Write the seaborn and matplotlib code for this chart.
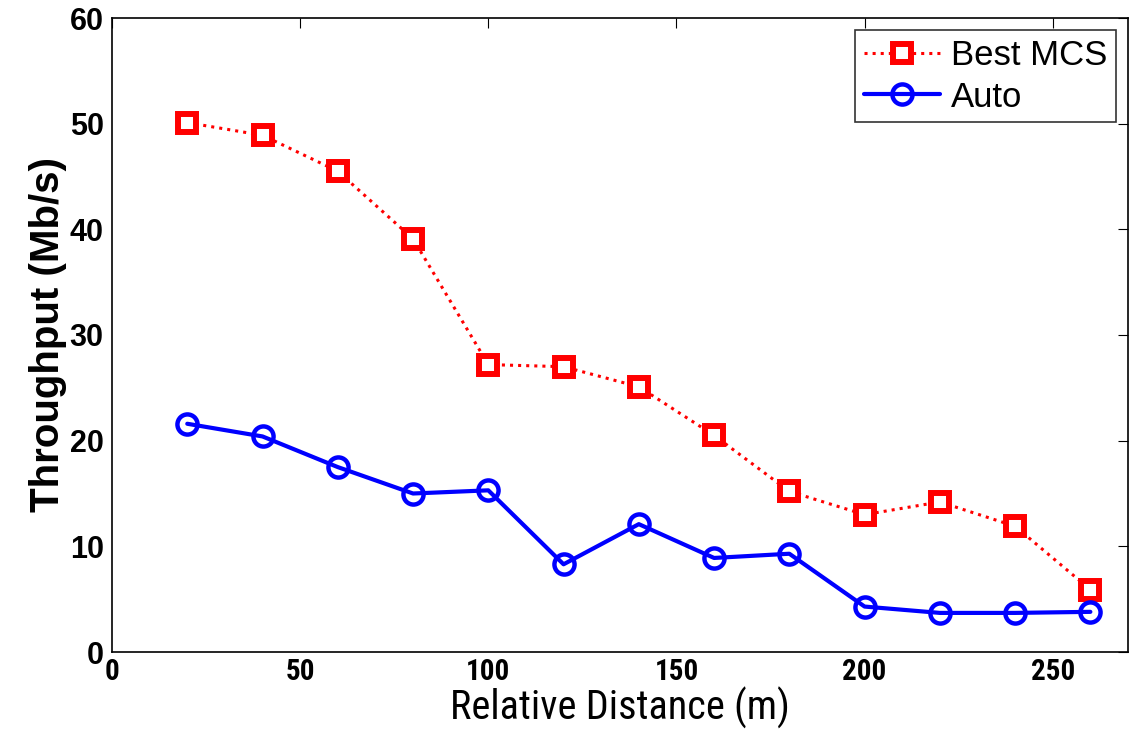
import matplotlib
matplotlib.use("Agg")
import matplotlib.pyplot as plt
import seaborn as sns
import pandas as pd
from matplotlib import font_manager

distance = [20, 40, 60, 80, 100, 120, 140, 160, 180, 200, 220, 240, 260]
best_mcs = [50.1, 48.9, 45.5, 39.1, 27.2, 27.0, 25.1, 20.5, 15.2, 13.0, 14.2, 11.9, 5.9]
auto = [21.6, 20.4, 17.5, 15.0, 15.3, 8.3, 12.1, 8.9, 9.3, 4.3, 3.7, 3.7, 3.8]
x_ticks = [0, 50, 100, 150, 200, 250]
y_ticks = [0, 10, 20, 30, 40, 50, 60]

sns.set_theme(style="white")
plt.rcParams['font.family'] = ['Liberation Sans', 'DejaVu Sans']
plt.rcParams['text.color'] = 'black'
plt.rcParams['axes.labelcolor'] = 'black'
plt.rcParams['xtick.color'] = 'black'
plt.rcParams['ytick.color'] = 'black'

names = {f.name for f in font_manager.fontManager.ttflist}
narrow = None
for cand in ['Liberation Sans Narrow', 'Roboto Condensed', 'Open Sans Condensed']:
    if cand in names:
        narrow = cand
        break
has_dv_cond = any(f.name == 'DejaVu Sans' and 'Condensed' in f.fname for f in font_manager.fontManager.ttflist)
if narrow is None:
    narrow = 'DejaVu Sans' if has_dv_cond else 'Liberation Sans'

df = pd.DataFrame({"distance": distance, "best": best_mcs, "auto": auto})

fig = plt.figure(figsize=(11.3, 7.39), dpi=100)
ax = fig.add_axes([112/1130, 1-652/739, (1128-112)/1130, (652-18)/739])

sns.lineplot(data=df, x="distance", y="best", ax=ax, color="#ff0000", linestyle=":",
             linewidth=2.2, marker="s", markersize=12.5, markeredgewidth=4.3,
             markerfacecolor="white", markeredgecolor="#ff0000", label="Best MCS")
sns.lineplot(data=df, x="distance", y="auto", ax=ax, color="#0000ff", linestyle="-",
             linewidth=3, marker="o", markersize=14.5, markeredgewidth=3.2,
             markerfacecolor="none", markeredgecolor="#0000ff", label="Auto")

ax.set_xlim(0, 270)
ax.set_ylim(0, 60)
ax.set_xticks(x_ticks)
ax.set_yticks(y_ticks)
ax.tick_params(direction="in", top=True, right=True, length=7, width=0.8)
for lab in ax.get_xticklabels():
    lab.set_fontfamily(narrow)
    lab.set_fontstretch("condensed")
    lab.set_fontsize(21)
    lab.set_fontweight("bold")
for lab in ax.get_yticklabels():
    lab.set_fontsize(22)
    lab.set_fontweight("bold")
ax.tick_params(axis="x", pad=4)
ax.tick_params(axis="y", pad=6)

ax.set_xlabel("Relative Distance (m)", fontsize=29, fontfamily=narrow, fontstretch="condensed", labelpad=1)
ax.set_ylabel("Throughput (Mb/s)", fontsize=29, fontweight="bold", labelpad=2)

for s in ax.spines.values():
    s.set_color("black")
    s.set_linewidth(1.2)
ax.grid(False)

leg = ax.legend(loc="upper right", fontsize=25, frameon=True, fancybox=False,
                edgecolor="black", borderpad=0.25, handlelength=2.2, handletextpad=0.3,
                labelspacing=0.25, borderaxespad=0.35)
leg.get_frame().set_linewidth(1.2)

fig.savefig("out.png", dpi=100)
